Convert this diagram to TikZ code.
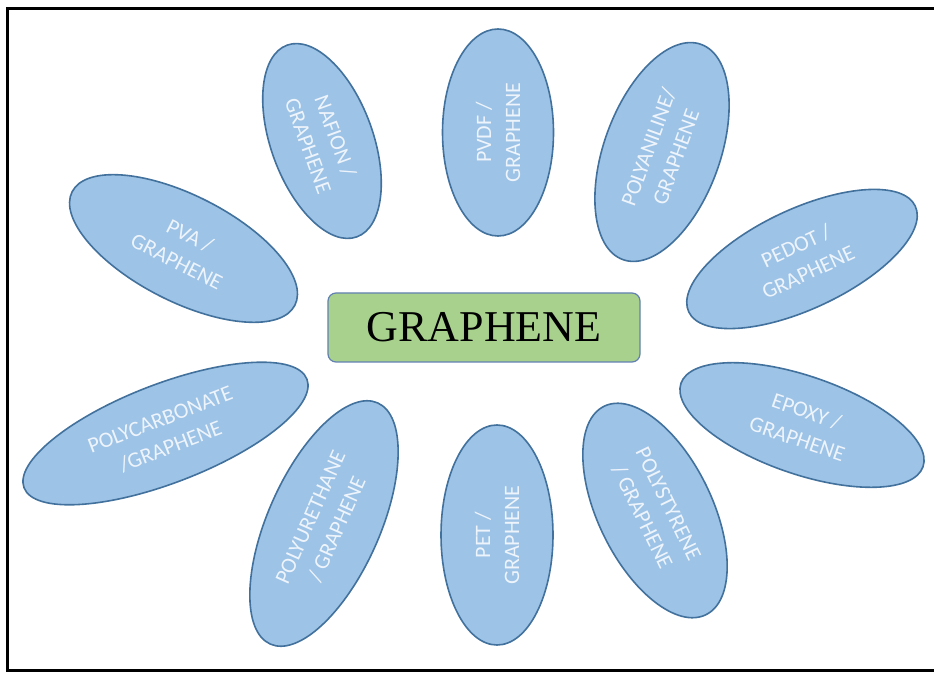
\documentclass[tikz,border=0pt]{standalone}
\usepackage{fontspec}
\setmainfont{Liberation Serif}
\newfontfamily\bubblefont{Carlito}
\usetikzlibrary{shapes.geometric}
\definecolor{bubblefill}{RGB}{157,195,230}
\definecolor{bubbleedge}{RGB}{65,113,156}
\definecolor{bubbletext}{RGB}{238,244,251}
\definecolor{corefill}{RGB}{169,209,142}
\definecolor{coreedge}{RGB}{98,128,178}
\begin{document}
\begin{tikzpicture}[x=1pt,y=1pt,
  bubble/.style={ellipse, draw=bubbleedge, line width=1.6pt, fill=bubblefill,
    inner sep=0pt, align=center, text=bubbletext,
    font=\bubblefont\fontsize{22}{29}\selectfont},
  core/.style={rectangle, rounded corners=8pt, draw=coreedge, line width=1.2pt,
    fill=corefill, minimum width=312pt, minimum height=69pt, inner sep=0pt,
    font=\fontsize{44}{50}\selectfont, text=black},
  frame/.style={line width=3pt, draw=black}]
\useasboundingbox (0,0) rectangle (934,675);
% outer frame (open on the right)
\draw[frame] (940,666.5) -- (7,666.5) -- (7,4.5) -- (940,4.5);

% central box
\node[core] (g) at (484,347.5) {GRAPHENE};

% surrounding composites
\node[bubble, minimum width=250pt, minimum height=106pt, rotate=-27] (pva) at (183.5,426.5) {PVA /\\GRAPHENE};
\node[bubble, minimum width=204pt, minimum height=102pt, rotate=-70] (nafion) at (322,534) {NAFION /\\GRAPHENE};
\node[bubble, minimum width=207pt, minimum height=111pt, rotate=90] (pvdf) at (498,542.5) {PVDF /\\GRAPHENE};
\node[bubble, minimum width=229pt, minimum height=116pt, rotate=70] (pani) at (662,523) {POLYANILINE/\\GRAPHENE};
\node[bubble, minimum width=250pt, minimum height=100pt, rotate=25] (pedot) at (802,416) {PEDOT /\\GRAPHENE};
\node[bubble, minimum width=256pt, minimum height=98pt, rotate=-19] (epoxy) at (802,250) {EPOXY /\\GRAPHENE};
\node[bubble, minimum width=232pt, minimum height=114pt, rotate=-64] (ps) at (655,164.5) {POLYSTYRENE\\/ GRAPHENE};
\node[bubble, minimum width=220pt, minimum height=112pt, rotate=90] (pet) at (497,140) {PET /\\GRAPHENE};
\node[bubble, minimum width=264pt, minimum height=112pt, rotate=66] (pu) at (324,151.5) {POLYURETHANE\\/ GRAPHENE};
\node[bubble, minimum width=303pt, minimum height=99pt, rotate=21] (pc) at (165.5,241.5) {POLYCARBONATE\\/GRAPHENE};
\end{tikzpicture}
\end{document}
